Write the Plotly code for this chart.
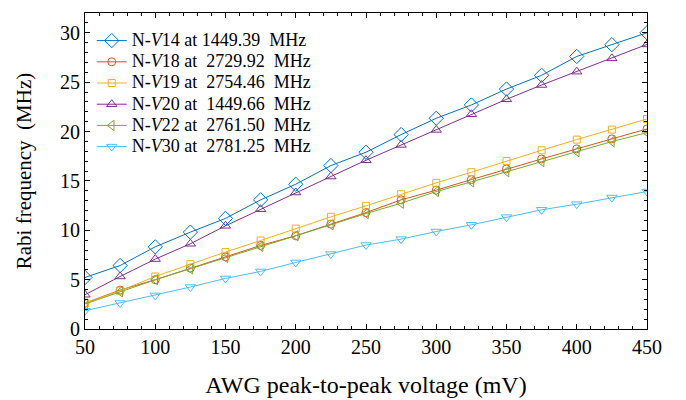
import plotly.graph_objects as go

voltage = [50, 75, 100, 125, 150, 175, 200, 225, 250, 275, 300, 325, 350, 375, 400, 425, 450]

nv14 = [5.22, 6.43, 8.32, 9.81, 11.2, 13.08, 14.66, 16.55, 17.9, 19.69, 21.34, 22.69, 24.3, 25.69, 27.6, 28.79, 30.0]
nv18 = [2.63, 3.94, 4.99, 6.17, 7.31, 8.46, 9.44, 10.62, 11.79, 13.08, 14.06, 15.13, 16.21, 17.22, 18.24, 19.25, 20.26]
nv19 = [2.63, 3.87, 5.32, 6.57, 7.79, 8.96, 10.17, 11.36, 12.47, 13.65, 14.8, 15.88, 17.02, 18.1, 19.18, 20.19, 21.27]
nv20 = [3.47, 5.32, 7.08, 8.63, 10.45, 12.13, 13.82, 15.44, 17.09, 18.64, 20.16, 21.75, 23.26, 24.71, 26.06, 27.41, 28.82]
nv22 = [2.53, 3.77, 4.99, 6.1, 7.24, 8.36, 9.44, 10.55, 11.69, 12.74, 13.92, 14.9, 15.94, 16.95, 17.96, 18.98, 19.89]
nv30 = [1.85, 2.63, 3.4, 4.25, 5.12, 5.83, 6.74, 7.59, 8.5, 9.1, 9.87, 10.55, 11.33, 12.07, 12.64, 13.31, 13.92]

names = [
    "N-<i>V</i>14 at 1449.39  MHz",
    "N-<i>V</i>18 at  2729.92  MHz",
    "N-<i>V</i>19 at  2754.46  MHz",
    "N-<i>V</i>20 at  1449.66  MHz",
    "N-<i>V</i>22 at  2761.50  MHz",
    "N-<i>V</i>30 at  2781.25  MHz",
]
series = [nv14, nv18, nv19, nv20, nv22, nv30]
colors = ["#0072BD", "#D95319", "#EDB120", "#7E2F8E", "#77AC30", "#4DBEEE"]
symbols = ["diamond-open", "circle-open", "square-open", "triangle-up-open", "triangle-left-open", "triangle-down-open"]
sizes = [11, 8, 7, 9, 9, 9]

fig = go.Figure()
for name, ys, c, s, sz in zip(names, series, colors, symbols, sizes):
    fig.add_trace(go.Scatter(
        x=voltage, y=ys, name="<span style='font-size:18px'>" + name + "</span>",
        mode="lines+markers",
        line=dict(color=c, width=1),
        marker=dict(symbol=s, size=sz, color=c, line=dict(color=c, width=1)),
    ))

font_family = "Liberation Serif, Times New Roman, serif"
axis_common = dict(
    showline=True, linecolor="black", linewidth=1, mirror="ticks",
    ticks="inside", ticklen=5, tickcolor="black", tickwidth=1,
    showgrid=False, zeroline=False,
    tickfont=dict(family=font_family, size=20, color="black"),
)

# page body has an 8px margin; figure sized to fit the 686x400 window
fig.update_layout(
    width=678, height=392,
    margin=dict(l=77, r=39, t=5, b=71),
    paper_bgcolor="white", plot_bgcolor="white",
    font=dict(family=font_family, color="black"),
    xaxis=dict(
        range=[50, 450], dtick=50, tick0=50,
        minor=dict(dtick=10, ticks="inside", ticklen=3, tickcolor="black"),
        title=dict(text="AWG peak-to-peak voltage (mV)", font=dict(family=font_family, size=24), standoff=19),
        **axis_common,
    ),
    yaxis=dict(
        range=[0, 32], dtick=5, tick0=0,
        minor=dict(dtick=1, ticks="inside", ticklen=3, tickcolor="black"),
        title=dict(text="Rabi frequency  (MHz)", font=dict(family=font_family, size=21), standoff=22),
        **axis_common,
    ),
    legend=dict(
        x=0.012, y=0.962, xanchor="left", yanchor="top",
        bgcolor="rgba(255,255,255,0)", borderwidth=0,
        font=dict(family=font_family, size=14, color="black"),
        tracegroupgap=0, itemwidth=30,
    ),
    showlegend=True,
)

fig.write_html("out.html")
